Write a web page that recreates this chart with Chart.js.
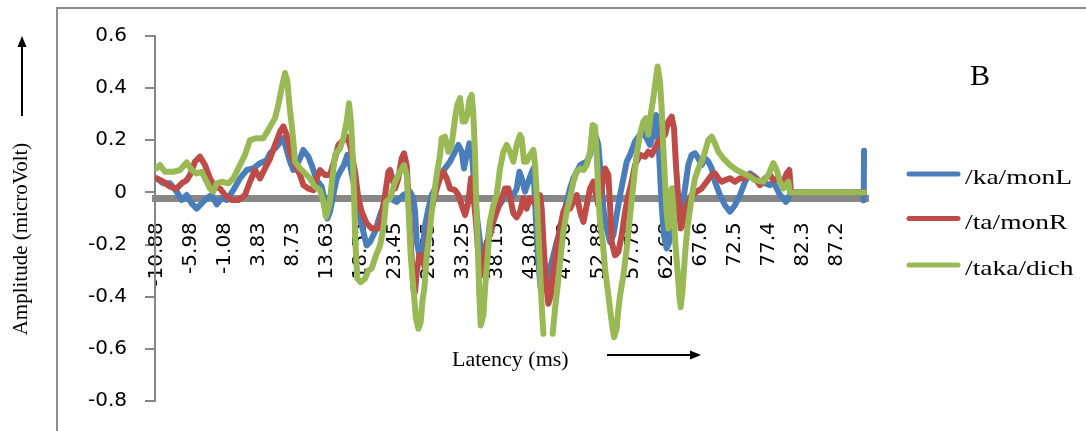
<!DOCTYPE html>
<html>
<head>
<meta charset="utf-8">
<script src="https://cdn.jsdelivr.net/npm/chart.js@4.4.1/dist/chart.umd.min.js"></script>
<style>
  html, body { margin: 0; padding: 0; background: #fff; }
  #wrap { width: 1086px; height: 431px; }
</style>
</head>
<body>
<div id="wrap"><canvas id="erp" width="1086" height="431"></canvas></div>
<script>
// [latency ms, amplitude microVolt]
const kaMonL = [
  [-10.93, 0.054], [-9.97, 0.035], [-9.01, 0.035], [-8.04, 0.003], [-7.32, -0.029], [-6.60, -0.010],
  [-5.88, -0.042], [-5.16, -0.062], [-4.44, -0.042], [-3.72, -0.023], [-3.00, -0.010], [-2.27, -0.046],
  [-1.55, -0.023], [-0.83, -0.029], [0.13, 0.009], [1.09, 0.054], [2.05, 0.086], [3.01, 0.092],
  [3.98, 0.112], [4.94, 0.124], [5.42, 0.150], [6.38, 0.176], [7.34, 0.208], [7.82, 0.163],
  [8.30, 0.118], [8.79, 0.086], [9.27, 0.105], [9.75, 0.131], [10.23, 0.163], [10.95, 0.137],
  [11.43, 0.105], [12.15, 0.047], [12.87, 0.022], [13.35, -0.036], [13.69, -0.100], [14.07, -0.074],
  [14.55, -0.010], [15.04, 0.054], [15.52, 0.079], [16.09, 0.105], [16.57, 0.144], [16.96, 0.105],
  [17.44, 0.041], [18.02, -0.049], [18.64, -0.126], [19.36, -0.203], [19.84, -0.190], [20.56, -0.151],
  [21.29, -0.087], [22.01, -0.036], [22.73, -0.023], [23.69, -0.036], [24.65, -0.010], [25.61, 0.003],
  [26.10, -0.023], [26.34, -0.074], [26.58, -0.190], [27.06, -0.254], [27.54, -0.190], [27.78, -0.126],
  [28.26, -0.062], [28.74, -0.010], [29.22, 0.015], [29.94, 0.067], [30.66, 0.092], [31.38, 0.118],
  [32.11, 0.156], [32.59, 0.182], [33.07, 0.156], [33.40, 0.092], [33.79, 0.144], [34.17, 0.188],
  [34.51, 0.156], [34.85, 0.041], [35.23, -0.087], [35.71, -0.190], [36.19, -0.267], [36.67, -0.228],
  [37.15, -0.113], [37.63, -0.074], [38.11, -0.062], [38.84, -0.036], [39.56, 0.003], [40.52, -0.010],
  [41.00, 0.015], [41.39, 0.079], [41.72, 0.054], [42.20, 0.003], [42.68, 0.041], [43.02, 0.067],
  [43.41, 0.092], [43.79, -0.113], [44.13, -0.267], [44.46, -0.369], [44.85, -0.369], [45.33, -0.356],
  [45.81, -0.292], [46.29, -0.241], [46.77, -0.190], [47.25, -0.151], [47.73, -0.087], [48.21, -0.036],
  [48.69, 0.015], [49.17, 0.054], [49.66, 0.079], [50.14, 0.105], [50.62, 0.112], [51.10, 0.118],
  [51.58, 0.144], [52.06, 0.195], [52.44, 0.214], [52.78, 0.182], [53.12, 0.067], [53.50, -0.062],
  [53.98, -0.138], [54.46, -0.190], [54.94, -0.164], [55.42, -0.087], [55.91, -0.010], [56.39, 0.054],
  [56.87, 0.118], [57.35, 0.144], [58.06, 0.195], [58.78, 0.221], [59.26, 0.227], [59.74, 0.208],
  [60.22, 0.182], [60.71, 0.221], [61.09, 0.297], [61.43, 0.208], [61.67, 0.079], [61.91, -0.049],
  [62.24, -0.164], [62.63, -0.215], [63.01, -0.190], [63.35, -0.074], [63.69, 0.015], [64.07, -0.010],
  [64.46, -0.087], [64.79, -0.074], [65.27, 0.015], [65.75, 0.105], [66.23, 0.144], [66.72, 0.150],
  [67.20, 0.131], [67.68, 0.105], [68.16, 0.131], [68.64, 0.118], [69.12, 0.092], [69.60, 0.041],
  [70.32, -0.010], [71.04, -0.049], [71.76, -0.074], [72.48, -0.049], [73.21, -0.010], [73.93, 0.041],
  [74.65, 0.073], [75.37, 0.060], [76.09, 0.041], [76.81, 0.035], [77.53, 0.028], [78.02, 0.041],
  [78.50, 0.015], [78.98, -0.010], [79.46, -0.023], [79.84, -0.036], [80.18, -0.023], [80.55, 0],
  [91.00, 0], [91.05, -0.030], [91.10, 0.160]
];

const taMonR = [
  [-10.93, 0.054], [-9.97, 0.041], [-9.01, 0.022], [-8.04, 0.015], [-7.32, 0.035], [-6.60, 0.047],
  [-6.12, 0.067], [-5.40, 0.118], [-4.68, 0.137], [-3.96, 0.105], [-3.24, 0.054], [-2.52, 0.022],
  [-1.79, 0.015], [-1.07, -0.010], [-0.11, -0.029], [0.85, -0.029], [1.81, -0.010], [2.53, 0.041],
  [3.25, 0.086], [3.98, 0.054], [4.70, 0.092], [5.42, 0.130], [6.14, 0.182], [6.86, 0.233],
  [7.34, 0.253], [7.82, 0.221], [8.30, 0.156], [9.03, 0.105], [9.75, 0.067], [10.23, 0.028],
  [10.95, 0.015], [11.67, 0.009], [12.15, 0.054], [12.63, 0.086], [13.35, 0.067], [14.07, 0.067],
  [14.80, 0.131], [15.28, 0.182], [16.00, 0.201], [16.48, 0.214], [16.96, 0.182], [17.68, 0.079],
  [18.16, -0.023], [18.64, -0.074], [19.36, -0.119], [20.08, -0.138], [21.05, -0.138], [21.53, -0.087],
  [22.01, -0.010], [22.49, 0.079], [22.73, 0.086], [23.45, 0.015], [23.93, 0.054], [24.41, 0.131],
  [24.75, 0.150], [25.13, 0.105], [25.37, -0.010], [25.71, -0.190], [26.10, -0.369], [26.34, -0.382],
  [26.58, -0.305], [26.96, -0.241], [27.30, -0.241], [27.54, -0.267], [27.78, -0.292], [28.26, -0.164],
  [28.74, -0.062], [29.46, 0.015], [29.94, 0.054], [30.42, 0.079], [30.90, 0.054], [31.38, 0.015],
  [32.11, 0.009], [32.59, -0.010], [33.07, -0.049], [33.55, -0.087], [34.03, -0.036], [34.41, 0.054],
  [34.75, -0.010], [35.13, -0.113], [35.47, -0.241], [35.81, -0.318], [36.19, -0.267], [36.67, -0.190],
  [37.15, -0.164], [37.63, -0.113], [38.11, -0.074], [38.84, -0.023], [39.32, 0.015], [39.80, 0.015],
  [40.52, -0.080], [41.00, -0.095], [41.48, -0.074], [41.96, -0.023], [42.44, -0.062], [42.92, -0.023],
  [43.41, -0.036], [43.89, -0.049], [44.37, -0.010], [44.61, -0.062], [44.85, -0.190], [45.23, -0.344],
  [45.57, -0.427], [45.91, -0.395], [46.29, -0.305], [46.77, -0.203], [47.25, -0.138], [47.73, -0.074],
  [48.21, -0.049], [48.69, -0.062], [49.17, -0.036], [49.66, -0.010], [50.14, -0.074], [50.62, -0.113],
  [51.10, -0.049], [51.58, 0.015], [52.06, 0.041], [52.44, -0.010], [52.78, -0.049], [53.26, 0.015],
  [53.74, 0.092], [54.22, 0.067], [54.46, -0.049], [54.70, -0.190], [55.18, -0.241], [55.67, -0.228],
  [56.15, -0.164], [56.63, -0.074], [57.11, -0.010], [57.59, 0.041], [58.06, 0.105], [58.78, 0.144],
  [59.50, 0.137], [59.98, 0.156], [60.47, 0.144], [60.95, 0.169], [61.43, 0.195], [61.91, 0.208],
  [62.39, 0.221], [62.87, 0.272], [63.35, 0.291], [63.69, 0.246], [63.97, 0.105], [64.31, -0.023],
  [64.65, -0.138], [64.94, -0.126], [65.27, -0.062], [65.75, -0.036], [66.23, -0.010], [66.96, 0.003],
  [67.68, 0.015], [68.40, 0.041], [69.12, 0.067], [69.60, 0.073], [70.08, 0.054], [70.56, 0.041],
  [71.04, 0.047], [71.76, 0.054], [72.48, 0.041], [73.21, 0.054], [73.93, 0.054], [74.65, 0.067],
  [75.37, 0.054], [76.09, 0.028], [76.81, 0.054], [77.53, 0.067], [78.02, 0.047], [78.74, 0.054],
  [79.46, 0.041], [79.94, 0.073], [80.32, 0.086], [80.52, 0.015], [80.66, 0], [91.10, 0]
];

// null marks the break in the trace near 45.5 ms
const takaDich = [
  [-10.93, 0.092], [-10.45, 0.105], [-9.73, 0.079], [-8.52, 0.079], [-7.56, 0.086], [-6.60, 0.115],
  [-5.88, 0.086], [-5.16, 0.073], [-4.44, 0.079], [-3.96, 0.054], [-3.24, 0.015], [-2.76, 0.003],
  [-2.27, 0.035], [-1.55, 0.041], [-0.59, 0.035], [0.13, 0.054], [0.85, 0.092], [1.81, 0.144],
  [2.53, 0.201], [3.49, 0.208], [4.46, 0.208], [5.18, 0.240], [5.60, 0.260], [6.14, 0.285],
  [6.62, 0.336], [7.10, 0.400], [7.58, 0.458], [7.92, 0.426], [8.21, 0.336], [8.55, 0.259],
  [8.79, 0.195], [9.03, 0.118], [9.75, 0.092], [10.47, 0.073], [11.19, 0.054], [11.91, 0.022],
  [12.63, 0.009], [13.11, -0.036], [13.50, -0.094], [13.98, -0.049], [14.46, 0.067], [14.80, 0.144],
  [15.52, 0.169], [16.00, 0.208], [16.48, 0.272], [16.81, 0.342], [17.10, 0.272], [17.34, 0.144],
  [17.54, -0.010], [17.73, -0.190], [18.02, -0.331], [18.50, -0.344], [19.12, -0.331], [19.60, -0.299],
  [20.08, -0.292], [20.71, -0.241], [21.29, -0.203], [21.77, -0.138], [22.15, -0.036], [22.73, -0.023],
  [23.45, 0.041], [24.17, 0.079], [24.75, 0.105], [25.13, 0.067], [25.37, -0.049], [25.71, -0.241],
  [26.10, -0.369], [26.48, -0.485], [26.82, -0.523], [27.15, -0.497], [27.44, -0.408], [27.68, -0.369],
  [28.02, -0.241], [28.40, -0.164], [28.74, -0.074], [29.08, -0.010], [29.46, 0.067], [29.94, 0.144],
  [30.18, 0.208], [30.66, 0.214], [31.14, 0.156], [31.62, 0.182], [32.11, 0.285], [32.44, 0.336],
  [32.83, 0.362], [33.21, 0.272], [33.55, 0.272], [33.88, 0.297], [34.17, 0.355], [34.51, 0.374],
  [34.75, 0.297], [34.99, 0.144], [35.13, -0.010], [35.37, -0.190], [35.61, -0.395], [35.81, -0.510],
  [36.19, -0.472], [36.43, -0.369], [36.82, -0.241], [37.15, -0.113], [37.63, -0.049], [38.11, -0.010],
  [38.59, 0.092], [39.08, 0.156], [39.56, 0.182], [40.04, 0.156], [40.52, 0.118], [41.00, 0.182],
  [41.48, 0.221], [41.72, 0.208], [42.06, 0.118], [42.44, 0.118], [42.92, 0.144], [43.41, 0.163],
  [43.65, 0.105], [43.89, -0.010], [44.27, -0.241], [44.61, -0.433], [44.85, -0.542], [45.50, null],
  [46.19, -0.542], [46.53, -0.446], [46.87, -0.369], [47.25, -0.267], [47.73, -0.151], [48.21, -0.074],
  [48.69, -0.023], [49.17, 0.041], [49.66, 0.079], [50.14, 0.092], [50.62, 0.086], [51.10, 0.105],
  [51.58, 0.156], [51.96, 0.259], [52.30, 0.253], [52.54, 0.144], [52.78, -0.010], [53.02, -0.113],
  [53.41, -0.190], [53.74, -0.292], [54.22, -0.395], [54.70, -0.497], [55.04, -0.555], [55.42, -0.523],
  [55.67, -0.446], [55.91, -0.395], [56.39, -0.318], [56.87, -0.215], [57.34, -0.090], [57.82, 0.028],
  [58.30, 0.144], [58.78, 0.221], [59.26, 0.272], [59.65, 0.285], [59.98, 0.221], [60.32, 0.297],
  [60.71, 0.362], [61.09, 0.438], [61.33, 0.483], [61.67, 0.426], [61.91, 0.323], [62.15, 0.169],
  [62.39, 0.041], [62.63, -0.074], [62.87, -0.138], [63.11, -0.049], [63.35, 0.015], [63.59, -0.049],
  [63.83, -0.177], [64.17, -0.292], [64.46, -0.395], [64.65, -0.440], [64.94, -0.369], [65.27, -0.241],
  [65.61, -0.138], [66.00, -0.062], [66.38, 0.003], [66.72, 0.054], [67.20, 0.092], [67.68, 0.118],
  [68.16, 0.156], [68.64, 0.201], [69.12, 0.214], [69.60, 0.188], [70.08, 0.156], [70.80, 0.131],
  [71.76, 0.105], [72.72, 0.086], [73.69, 0.073], [74.65, 0.060], [75.37, 0.047], [76.57, 0.041],
  [77.29, 0.067], [78.02, 0.112], [78.50, 0.086], [78.98, 0.041], [79.46, 0.015], [80.18, 0.041],
  [80.42, 0], [91.10, 0]
];

const latencyTicks = [-10.88, -5.98, -1.08, 3.83, 8.73, 13.63, 18.55, 23.45, 28.35, 33.25, 38.15,
  43.08, 47.98, 52.88, 57.78, 62.68, 67.6, 72.5, 77.4, 82.3, 87.2];
const ampTicks = [-0.8, -0.6, -0.4, -0.2, 0, 0.2, 0.4, 0.6];

const seriesNames = ['/ka/monL', '/ta/monR', '/taka/dich'];
const seriesColors = ['#4a7ebb', '#be4b48', '#98b954'];

const toPoints = rows => rows.map(([x, y]) => ({ x, y }));

// frame, axis captions, arrows, panel letter and legend
const decorations = {
  id: 'decorations',
  afterDraw(chart) {
    const ctx = chart.ctx;
    ctx.save();

    ctx.strokeStyle = '#8c8c8c';
    ctx.lineWidth = 2;
    ctx.strokeRect(57, 8, 1100, 500);

    ctx.fillStyle = '#000';
    ctx.strokeStyle = '#000';
    ctx.lineWidth = 2;

    // upward arrow beside the amplitude caption
    ctx.beginPath();
    ctx.moveTo(22, 116);
    ctx.lineTo(22, 44);
    ctx.stroke();
    ctx.beginPath();
    ctx.moveTo(22, 36);
    ctx.lineTo(17.5, 47);
    ctx.lineTo(26.5, 47);
    ctx.closePath();
    ctx.fill();

    ctx.save();
    ctx.font = '21px "Liberation Serif"';
    ctx.textAlign = 'center';
    ctx.textBaseline = 'alphabetic';
    ctx.translate(27, 239);
    ctx.rotate(-Math.PI / 2);
    ctx.fillText('Amplitude (microVolt)', 0, 0);
    ctx.restore();

    ctx.font = '22px "Liberation Serif"';
    ctx.textAlign = 'left';
    ctx.textBaseline = 'alphabetic';
    ctx.fillText('Latency (ms)', 452, 366);

    // rightward arrow after the latency caption
    ctx.beginPath();
    ctx.moveTo(607, 355);
    ctx.lineTo(692, 355);
    ctx.stroke();
    ctx.beginPath();
    ctx.moveTo(701, 355);
    ctx.lineTo(690, 350.5);
    ctx.lineTo(690, 359.5);
    ctx.closePath();
    ctx.fill();

    ctx.font = '30px "Liberation Serif"';
    ctx.fillText('B', 970, 85);

    const rows = [174, 218.5, 265];
    chart.data.datasets.forEach((ds, i) => {
      const y = rows[i];
      ctx.strokeStyle = ds.borderColor;
      ctx.lineWidth = 5;
      ctx.lineCap = 'round';
      ctx.beginPath();
      ctx.moveTo(909, y);
      ctx.lineTo(958, y);
      ctx.stroke();
      ctx.save();
      ctx.fillStyle = '#000';
      ctx.font = '22px "Liberation Serif"';
      ctx.translate(965, y + 10);
      ctx.scale(1.25, 1);
      ctx.fillText(ds.label, 0, 0);
      ctx.restore();
    });

    ctx.restore();
  }
};

const lineSeries = [kaMonL, taMonR, takaDich].map((rows, i) => ({
  label: seriesNames[i],
  data: toPoints(rows),
  borderColor: seriesColors[i],
  backgroundColor: seriesColors[i],
  order: 3 - i
}));

new Chart(document.getElementById('erp'), {
  type: 'line',
  data: { datasets: lineSeries },
  options: {
    responsive: false,
    animation: false,
    devicePixelRatio: 1,
    datasets: {
      line: {
        borderWidth: 6,
        pointRadius: 0,
        tension: 0,
        borderJoinStyle: 'round',
        borderCapStyle: 'round',
        spanGaps: false,
        fill: false
      }
    },
    layout: { padding: { top: 36, right: 218, bottom: 0, left: 0 } },
    plugins: {
      legend: { display: false },
      tooltip: { enabled: false }
    },
    scales: {
      x: {
        type: 'linear',
        position: { y: -0.022 },
        min: -11.17,
        max: 91.67,
        afterBuildTicks: s => { s.ticks = latencyTicks.map(v => ({ value: v })); },
        afterFit: s => { s.height = 31; },
        grid: { display: false, drawTicks: false },
        border: { display: true, color: '#878787', width: 7 },
        ticks: {
          autoSkip: false,
          minRotation: 90,
          maxRotation: 90,
          padding: 24,
          color: '#000',
          font: { family: 'DejaVu Sans', size: 20 },
          callback: (v, i) => String(latencyTicks[i])
        }
      },
      y: {
        type: 'linear',
        position: 'left',
        min: -0.8,
        max: 0.6,
        afterBuildTicks: s => { s.ticks = ampTicks.map(v => ({ value: v })); },
        afterFit: s => { s.width = 155; },
        grid: { drawOnChartArea: false, drawTicks: true, tickLength: 10, color: '#868686', lineWidth: 2 },
        border: { color: '#868686', width: 2 },
        ticks: {
          padding: 18,
          color: '#000',
          font: { family: 'DejaVu Sans', size: 20 },
          callback: v => String(v)
        }
      }
    }
  },
  plugins: [decorations]
});
</script>
</body>
</html>
